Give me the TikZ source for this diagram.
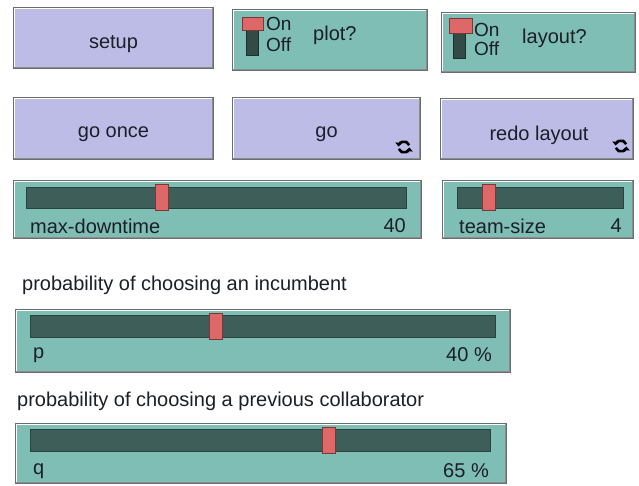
\documentclass[tikz,border=0pt]{standalone}
\usepackage{fontspec}
\setmainfont{Liberation Sans}
\usetikzlibrary{positioning,arrows.meta}

\definecolor{btnblue}{RGB}{188,188,230}
\definecolor{widgetgreen}{RGB}{126,190,180}
\definecolor{trackgreen}{RGB}{62,94,89}
\definecolor{thumbred}{RGB}{222,104,104}
\definecolor{edgegray}{RGB}{105,110,110}
\definecolor{textdark}{RGB}{28,30,40}

\tikzset{
	bevel/.style={path picture={
		\draw[white,line width=3pt] (path picture bounding box.south west) -- (path picture bounding box.north west) -- (path picture bounding box.north east);
		\draw[black!45,line width=3pt] (path picture bounding box.south west) -- (path picture bounding box.south east) -- (path picture bounding box.north east);
	}},
	widget/.style={anchor=north west,inner sep=0,draw=edgegray,line width=1pt,bevel},
	button/.style={widget,fill=btnblue},
	btntext/.style={inner sep=0,yshift=-6pt,text=textdark,font=\fontsize{20}{22}\selectfont},
	greenbox/.style={widget,fill=widgetgreen},
	track/.style={anchor=north west,inner sep=0,fill=trackgreen,draw=trackgreen!70!black,line width=1pt},
	thumb/.style={anchor=north west,inner sep=0,minimum width=13pt,minimum height=26pt,fill=thumbred,draw=thumbred!55!black,line width=0.8pt},
	toggle/.style={anchor=north west,inner sep=0,fill=thumbred,draw=thumbred!55!black,line width=0.8pt},
	stem/.style={anchor=north west,inner sep=0,fill=trackgreen!80!black,draw=trackgreen!50!black,line width=0.8pt},
	txt/.style={inner sep=0,text=textdark,font=\fontsize{20}{22}\selectfont},
	small/.style={inner sep=0,text=textdark,font=\fontsize{19}{19}\selectfont},
	iconarrow/.style={line width=2.6pt,-{Triangle[length=3.8pt,width=7pt]}}
}

\begin{document}
\begin{tikzpicture}[x=1pt,y=-1pt]
	\fill[white] (0,0) rectangle (639,485);
	\useasboundingbox (0,0) rectangle (639,485);

	% buttons and switches
	\node[button,minimum width=200pt,minimum height=61pt,label={[btntext]center:setup}] (setup) at (13,7) {};
	\node[greenbox,minimum width=195pt,minimum height=61pt] (plot) at (232,9) {};
	\node[greenbox,minimum width=194pt,minimum height=60pt] (layout) at (441,12) {};
	\node[button,minimum width=200pt,minimum height=62pt,label={[btntext]center:go once}] (goonce) at (13,97) {};
	\node[button,minimum width=188pt,minimum height=62pt,label={[btntext]center:go}] (go) at (232,97) {};
	\node[button,minimum width=193pt,minimum height=61pt,label={[btntext,xshift=2pt]center:redo layout}] (redo) at (440,98) {};

	\node[stem,minimum width=12pt,minimum height=25pt] (plotstem) at (246,30) {};
	\node[toggle,minimum width=21pt,minimum height=13pt] (plottoggle) at (242,17) {};
	\node[small,anchor=west] (ploton) at (266,24) {On};
	\node[small,anchor=west] (plotoff) at (266,45) {Off};
	\node[txt,anchor=west] (plotlabel) at (313,35) {plot?};

	\node[stem,minimum width=12pt,minimum height=25pt] (layoutstem) at (453,33) {};
	\node[toggle,minimum width=23pt,minimum height=15pt] (layouttoggle) at (449,18) {};
	\node[small,anchor=west] (layouton) at (474,30) {On};
	\node[small,anchor=west] (layoutoff) at (474,49) {Off};
	\node[txt,anchor=west] (layoutlabel) at (522,38) {layout?};

	% forever icons
	\coordinate (goicon) at (404,147);
	\coordinate (redoicon) at (621,146);
	\foreach \c in {goicon,redoicon}{
		\begin{scope}[shift={(\c)},x=1pt,y=1pt]
			\draw[iconarrow] (20:5.5) arc[start angle=20,end angle=175,radius=5.5];
			\draw[iconarrow] (200:5.5) arc[start angle=200,end angle=355,radius=5.5];
		\end{scope}
	}

	% sliders
	\node[greenbox,minimum width=408pt,minimum height=58pt] (maxdown) at (13,180) {};
	\node[track,minimum width=380pt,minimum height=21pt] (maxdowntrack) at (26,187) {};
	\node[thumb] (maxdownthumb) at (155,184) {};
	\node[txt,anchor=west] (maxdownname) at (30,226) {max-downtime};
	\node[txt,anchor=east] (maxdownvalue) at (406,226) {40};

	\node[greenbox,minimum width=191pt,minimum height=58pt] (teamsize) at (442,180) {};
	\node[track,minimum width=166pt,minimum height=21pt] (teamsizetrack) at (457,187) {};
	\node[thumb] (teamsizethumb) at (482,184) {};
	\node[txt,anchor=west] (teamsizename) at (459,226) {team-size};
	\node[txt,anchor=east] (teamsizevalue) at (622,226) {4};

	\node[txt,anchor=west] (ptitle) at (22,285) {probability of choosing an incumbent};
	\node[greenbox,minimum width=495pt,minimum height=63pt] (pslider) at (15,309) {};
	\node[track,minimum width=465pt,minimum height=22pt] (ptrack) at (30,315) {};
	\node[thumb] (pthumb) at (209,313) {};
	\node[txt,anchor=west] (pname) at (33,355) {p};
	\node[txt,anchor=east] (pvalue) at (492,355) {40 \%};

	\node[txt,anchor=west] (qtitle) at (17,401) {probability of choosing a previous collaborator};
	\node[greenbox,minimum width=491pt,minimum height=60pt] (qslider) at (15,423) {};
	\node[track,minimum width=460pt,minimum height=22pt] (qtrack) at (30,429) {};
	\node[thumb] (qthumb) at (322,427) {};
	\node[txt,anchor=west] (qname) at (33,471) {q};
	\node[txt,anchor=east] (qvalue) at (489,471) {65 \%};
\end{tikzpicture}
\end{document}
